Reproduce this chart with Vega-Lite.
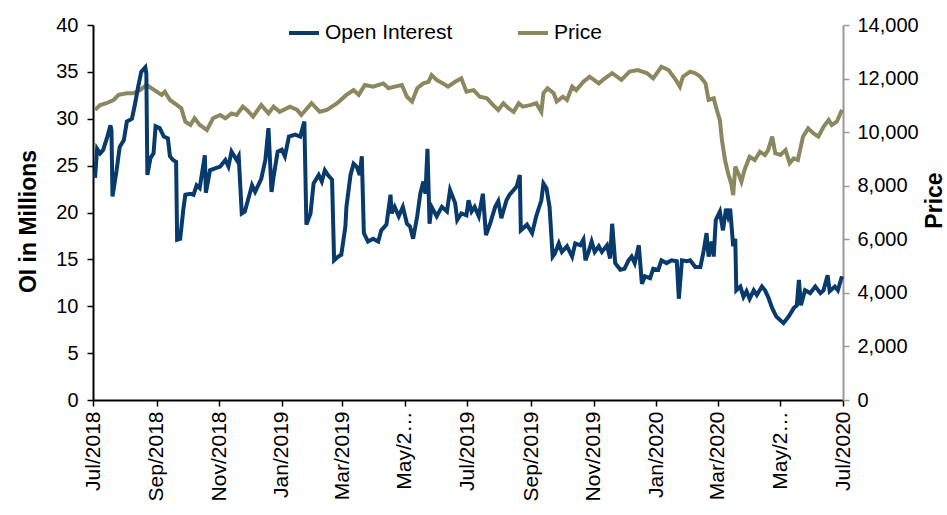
{
  "$schema": "https://vega.github.io/schema/vega-lite/v6.json",
  "width": 750,
  "height": 375,
  "autosize": {"type": "none"},
  "padding": {"left": 93, "top": 25, "right": 104, "bottom": 115},
  "background": "white",
  "config": {"view": {"stroke": null}, "font": "Liberation Sans", "axis": {"grid": false}},
  "datasets": {
    "oi": [
      {"date":"2018-07-03","oi":23.7},{"date":"2018-07-05","oi":26.8},{"date":"2018-07-08","oi":26.3},{"date":"2018-07-11","oi":26.7},{"date":"2018-07-15","oi":28.1},{"date":"2018-07-18","oi":29.3},{"date":"2018-07-19","oi":28.8},{"date":"2018-07-20","oi":21.7},{"date":"2018-07-24","oi":24.5},{"date":"2018-07-27","oi":27.0},{"date":"2018-07-31","oi":27.7},{"date":"2018-08-03","oi":29.7},{"date":"2018-08-08","oi":30.0},{"date":"2018-08-11","oi":31.6},{"date":"2018-08-14","oi":33.4},{"date":"2018-08-17","oi":35.0},{"date":"2018-08-21","oi":35.5},{"date":"2018-08-22","oi":34.8},{"date":"2018-08-23","oi":24.0},{"date":"2018-08-26","oi":25.8},{"date":"2018-08-29","oi":26.3},{"date":"2018-08-31","oi":29.2},{"date":"2018-09-04","oi":29.0},{"date":"2018-09-08","oi":28.1},{"date":"2018-09-12","oi":27.9},{"date":"2018-09-14","oi":26.0},{"date":"2018-09-17","oi":25.6},{"date":"2018-09-20","oi":25.4},{"date":"2018-09-21","oi":17.1},{"date":"2018-09-24","oi":17.2},{"date":"2018-09-27","oi":20.3},{"date":"2018-09-29","oi":21.9},{"date":"2018-10-04","oi":22.0},{"date":"2018-10-07","oi":21.9},{"date":"2018-10-10","oi":22.9},{"date":"2018-10-13","oi":22.6},{"date":"2018-10-18","oi":26.1},{"date":"2018-10-19","oi":22.1},{"date":"2018-10-23","oi":24.5},{"date":"2018-10-28","oi":24.7},{"date":"2018-11-02","oi":24.9},{"date":"2018-11-07","oi":25.6},{"date":"2018-11-10","oi":24.9},{"date":"2018-11-13","oi":26.5},{"date":"2018-11-18","oi":25.6},{"date":"2018-11-20","oi":26.0},{"date":"2018-11-23","oi":19.9},{"date":"2018-11-26","oi":20.1},{"date":"2018-11-29","oi":21.3},{"date":"2018-12-03","oi":22.9},{"date":"2018-12-06","oi":22.2},{"date":"2018-12-09","oi":22.9},{"date":"2018-12-12","oi":23.6},{"date":"2018-12-16","oi":25.6},{"date":"2018-12-19","oi":29.0},{"date":"2018-12-22","oi":22.2},{"date":"2018-12-24","oi":23.8},{"date":"2018-12-28","oi":26.5},{"date":"2019-01-01","oi":26.7},{"date":"2019-01-04","oi":26.0},{"date":"2019-01-08","oi":28.1},{"date":"2019-01-14","oi":28.3},{"date":"2019-01-19","oi":28.1},{"date":"2019-01-23","oi":29.7},{"date":"2019-01-25","oi":18.7},{"date":"2019-01-29","oi":19.9},{"date":"2019-02-01","oi":23.1},{"date":"2019-02-06","oi":24.0},{"date":"2019-02-09","oi":23.3},{"date":"2019-02-12","oi":24.5},{"date":"2019-02-15","oi":24.0},{"date":"2019-02-19","oi":23.5},{"date":"2019-02-21","oi":14.9},{"date":"2019-02-25","oi":15.3},{"date":"2019-02-28","oi":15.5},{"date":"2019-03-04","oi":18.5},{"date":"2019-03-05","oi":20.6},{"date":"2019-03-09","oi":24.0},{"date":"2019-03-12","oi":25.2},{"date":"2019-03-15","oi":24.9},{"date":"2019-03-18","oi":24.0},{"date":"2019-03-20","oi":26.0},{"date":"2019-03-22","oi":17.8},{"date":"2019-03-26","oi":16.9},{"date":"2019-03-31","oi":17.2},{"date":"2019-04-05","oi":16.9},{"date":"2019-04-08","oi":18.1},{"date":"2019-04-13","oi":18.7},{"date":"2019-04-17","oi":21.9},{"date":"2019-04-18","oi":19.9},{"date":"2019-04-21","oi":20.6},{"date":"2019-04-25","oi":19.6},{"date":"2019-04-29","oi":20.6},{"date":"2019-05-03","oi":18.8},{"date":"2019-05-06","oi":18.5},{"date":"2019-05-09","oi":17.2},{"date":"2019-05-13","oi":19.6},{"date":"2019-05-16","oi":22.0},{"date":"2019-05-19","oi":23.3},{"date":"2019-05-21","oi":22.0},{"date":"2019-05-23","oi":26.8},{"date":"2019-05-25","oi":18.8},{"date":"2019-05-27","oi":20.6},{"date":"2019-06-01","oi":19.6},{"date":"2019-06-06","oi":20.6},{"date":"2019-06-11","oi":20.1},{"date":"2019-06-14","oi":22.4},{"date":"2019-06-19","oi":21.0},{"date":"2019-06-21","oi":19.2},{"date":"2019-06-25","oi":19.9},{"date":"2019-06-30","oi":19.7},{"date":"2019-07-02","oi":21.3},{"date":"2019-07-05","oi":20.1},{"date":"2019-07-08","oi":20.6},{"date":"2019-07-12","oi":19.6},{"date":"2019-07-16","oi":22.0},{"date":"2019-07-19","oi":17.6},{"date":"2019-07-23","oi":18.8},{"date":"2019-07-28","oi":20.6},{"date":"2019-07-31","oi":21.2},{"date":"2019-08-03","oi":19.4},{"date":"2019-08-08","oi":21.3},{"date":"2019-08-11","oi":21.9},{"date":"2019-08-15","oi":22.4},{"date":"2019-08-18","oi":22.8},{"date":"2019-08-21","oi":24.0},{"date":"2019-08-22","oi":18.1},{"date":"2019-08-28","oi":18.7},{"date":"2019-09-02","oi":17.8},{"date":"2019-09-06","oi":19.6},{"date":"2019-09-11","oi":21.3},{"date":"2019-09-13","oi":23.1},{"date":"2019-09-16","oi":22.6},{"date":"2019-09-19","oi":20.6},{"date":"2019-09-22","oi":15.3},{"date":"2019-09-24","oi":15.6},{"date":"2019-09-28","oi":16.7},{"date":"2019-10-01","oi":15.8},{"date":"2019-10-06","oi":16.4},{"date":"2019-10-11","oi":15.3},{"date":"2019-10-14","oi":16.7},{"date":"2019-10-19","oi":16.5},{"date":"2019-10-22","oi":17.1},{"date":"2019-10-24","oi":14.9},{"date":"2019-10-27","oi":15.8},{"date":"2019-10-30","oi":16.9},{"date":"2019-11-02","oi":15.8},{"date":"2019-11-06","oi":16.4},{"date":"2019-11-09","oi":15.8},{"date":"2019-11-14","oi":16.5},{"date":"2019-11-17","oi":15.1},{"date":"2019-11-19","oi":18.8},{"date":"2019-11-22","oi":14.6},{"date":"2019-11-27","oi":13.9},{"date":"2019-12-01","oi":14.0},{"date":"2019-12-05","oi":14.9},{"date":"2019-12-08","oi":15.3},{"date":"2019-12-11","oi":14.6},{"date":"2019-12-15","oi":16.5},{"date":"2019-12-18","oi":12.4},{"date":"2019-12-21","oi":13.2},{"date":"2019-12-26","oi":13.0},{"date":"2019-12-29","oi":14.0},{"date":"2020-01-03","oi":13.9},{"date":"2020-01-06","oi":14.9},{"date":"2020-01-11","oi":14.6},{"date":"2020-01-16","oi":14.9},{"date":"2020-01-21","oi":14.8},{"date":"2020-01-23","oi":10.8},{"date":"2020-01-26","oi":14.9},{"date":"2020-01-31","oi":14.8},{"date":"2020-02-03","oi":14.9},{"date":"2020-02-08","oi":14.2},{"date":"2020-02-13","oi":14.2},{"date":"2020-02-16","oi":15.8},{"date":"2020-02-19","oi":17.8},{"date":"2020-02-21","oi":15.3},{"date":"2020-02-24","oi":16.9},{"date":"2020-02-26","oi":15.3},{"date":"2020-02-28","oi":19.2},{"date":"2020-03-03","oi":20.1},{"date":"2020-03-06","oi":18.1},{"date":"2020-03-09","oi":20.4},{"date":"2020-03-11","oi":19.6},{"date":"2020-03-13","oi":20.4},{"date":"2020-03-16","oi":16.4},{"date":"2020-03-18","oi":17.2},{"date":"2020-03-19","oi":11.7},{"date":"2020-03-23","oi":12.1},{"date":"2020-03-26","oi":11.0},{"date":"2020-03-29","oi":11.6},{"date":"2020-04-01","oi":10.8},{"date":"2020-04-05","oi":11.7},{"date":"2020-04-08","oi":11.2},{"date":"2020-04-13","oi":12.1},{"date":"2020-04-16","oi":11.7},{"date":"2020-04-19","oi":11.0},{"date":"2020-04-23","oi":9.8},{"date":"2020-04-27","oi":8.9},{"date":"2020-05-04","oi":8.2},{"date":"2020-05-09","oi":8.9},{"date":"2020-05-14","oi":9.8},{"date":"2020-05-17","oi":10.1},{"date":"2020-05-19","oi":12.8},{"date":"2020-05-21","oi":10.1},{"date":"2020-05-25","oi":11.7},{"date":"2020-05-30","oi":11.4},{"date":"2020-06-04","oi":12.1},{"date":"2020-06-09","oi":11.4},{"date":"2020-06-12","oi":11.7},{"date":"2020-06-16","oi":13.3},{"date":"2020-06-18","oi":11.6},{"date":"2020-06-23","oi":12.1},{"date":"2020-06-26","oi":11.7},{"date":"2020-06-30","oi":13.2}
    ],
    "price": [
      {"date":"2018-07-03","price":10830},{"date":"2018-07-08","price":11010},{"date":"2018-07-14","price":11080},{"date":"2018-07-21","price":11200},{"date":"2018-07-26","price":11390},{"date":"2018-08-03","price":11450},{"date":"2018-08-09","price":11450},{"date":"2018-08-16","price":11570},{"date":"2018-08-22","price":11760},{"date":"2018-08-27","price":11640},{"date":"2018-09-01","price":11510},{"date":"2018-09-06","price":11390},{"date":"2018-09-09","price":11510},{"date":"2018-09-14","price":11200},{"date":"2018-09-21","price":11010},{"date":"2018-09-25","price":10890},{"date":"2018-09-29","price":10390},{"date":"2018-10-04","price":10270},{"date":"2018-10-08","price":10520},{"date":"2018-10-13","price":10270},{"date":"2018-10-20","price":10080},{"date":"2018-10-26","price":10520},{"date":"2018-11-02","price":10640},{"date":"2018-11-07","price":10520},{"date":"2018-11-13","price":10700},{"date":"2018-11-18","price":10640},{"date":"2018-11-24","price":10950},{"date":"2018-11-28","price":10830},{"date":"2018-12-04","price":10580},{"date":"2018-12-12","price":11010},{"date":"2018-12-19","price":10700},{"date":"2018-12-24","price":10950},{"date":"2018-12-30","price":10760},{"date":"2019-01-09","price":10950},{"date":"2019-01-16","price":10830},{"date":"2019-01-20","price":10640},{"date":"2019-01-30","price":11080},{"date":"2019-02-07","price":10760},{"date":"2019-02-14","price":10830},{"date":"2019-02-24","price":11080},{"date":"2019-03-05","price":11390},{"date":"2019-03-12","price":11570},{"date":"2019-03-17","price":11390},{"date":"2019-03-23","price":11760},{"date":"2019-03-31","price":11700},{"date":"2019-04-10","price":11820},{"date":"2019-04-15","price":11640},{"date":"2019-04-21","price":11700},{"date":"2019-04-28","price":11760},{"date":"2019-05-03","price":11320},{"date":"2019-05-08","price":11140},{"date":"2019-05-13","price":11640},{"date":"2019-05-19","price":11820},{"date":"2019-05-24","price":11880},{"date":"2019-05-27","price":12130},{"date":"2019-06-01","price":11950},{"date":"2019-06-07","price":11820},{"date":"2019-06-12","price":11700},{"date":"2019-06-19","price":11880},{"date":"2019-06-25","price":12010},{"date":"2019-06-30","price":11510},{"date":"2019-07-07","price":11570},{"date":"2019-07-13","price":11320},{"date":"2019-07-20","price":11260},{"date":"2019-07-26","price":11010},{"date":"2019-07-31","price":10830},{"date":"2019-08-05","price":11080},{"date":"2019-08-10","price":10890},{"date":"2019-08-15","price":10760},{"date":"2019-08-20","price":11080},{"date":"2019-08-24","price":10950},{"date":"2019-08-31","price":11010},{"date":"2019-09-06","price":11080},{"date":"2019-09-11","price":10760},{"date":"2019-09-13","price":11450},{"date":"2019-09-17","price":11640},{"date":"2019-09-23","price":11450},{"date":"2019-09-26","price":11140},{"date":"2019-10-02","price":11320},{"date":"2019-10-06","price":11200},{"date":"2019-10-11","price":11700},{"date":"2019-10-15","price":11570},{"date":"2019-10-22","price":11880},{"date":"2019-10-28","price":12070},{"date":"2019-11-06","price":11820},{"date":"2019-11-12","price":12010},{"date":"2019-11-19","price":12200},{"date":"2019-11-28","price":11950},{"date":"2019-12-06","price":12260},{"date":"2019-12-14","price":12320},{"date":"2019-12-23","price":12200},{"date":"2019-12-29","price":12010},{"date":"2020-01-06","price":12440},{"date":"2020-01-13","price":12320},{"date":"2020-01-19","price":12010},{"date":"2020-01-24","price":11700},{"date":"2020-01-27","price":12070},{"date":"2020-02-03","price":12260},{"date":"2020-02-08","price":12200},{"date":"2020-02-13","price":12070},{"date":"2020-02-18","price":11820},{"date":"2020-02-21","price":11200},{"date":"2020-02-26","price":11260},{"date":"2020-02-29","price":10830},{"date":"2020-03-03","price":10450},{"date":"2020-03-05","price":9710},{"date":"2020-03-08","price":8960},{"date":"2020-03-11","price":8460},{"date":"2020-03-14","price":8090},{"date":"2020-03-16","price":7650},{"date":"2020-03-18","price":8710},{"date":"2020-03-21","price":8460},{"date":"2020-03-24","price":8150},{"date":"2020-03-27","price":8590},{"date":"2020-04-01","price":9080},{"date":"2020-04-06","price":8960},{"date":"2020-04-11","price":9270},{"date":"2020-04-16","price":9150},{"date":"2020-04-19","price":9330},{"date":"2020-04-23","price":9830},{"date":"2020-04-26","price":9210},{"date":"2020-05-01","price":9150},{"date":"2020-05-06","price":9330},{"date":"2020-05-10","price":8840},{"date":"2020-05-14","price":9020},{"date":"2020-05-18","price":8960},{"date":"2020-05-23","price":9830},{"date":"2020-05-28","price":10140},{"date":"2020-06-02","price":9960},{"date":"2020-06-07","price":9830},{"date":"2020-06-12","price":10200},{"date":"2020-06-17","price":10450},{"date":"2020-06-20","price":10270},{"date":"2020-06-25","price":10390},{"date":"2020-06-30","price":10830}
    ]
  },
  "encoding": {
    "x": {
      "field": "date",
      "type": "temporal",
      "scale": {"type": "utc", "domain": [{"year": 2018, "month": 7, "date": 1, "utc": true}, {"year": 2020, "month": 7, "date": 1, "utc": true}]},
      "axis": {
        "title": null,
        "values": [
          {"year": 2018, "month": 7, "date": 1, "utc": true},
          {"year": 2018, "month": 9, "date": 1, "utc": true},
          {"year": 2018, "month": 11, "date": 1, "utc": true},
          {"year": 2019, "month": 1, "date": 1, "utc": true},
          {"year": 2019, "month": 3, "date": 1, "utc": true},
          {"year": 2019, "month": 5, "date": 1, "utc": true},
          {"year": 2019, "month": 7, "date": 1, "utc": true},
          {"year": 2019, "month": 9, "date": 1, "utc": true},
          {"year": 2019, "month": 11, "date": 1, "utc": true},
          {"year": 2020, "month": 1, "date": 1, "utc": true},
          {"year": 2020, "month": 3, "date": 1, "utc": true},
          {"year": 2020, "month": 5, "date": 1, "utc": true},
          {"year": 2020, "month": 7, "date": 1, "utc": true}
        ],
        "labelExpr": "utcFormat(datum.value, '%m') == '05' ? 'May/2…' : utcFormat(datum.value, '%b/%Y')",
        "labelAngle": 270,
        "labelAlign": "right",
        "labelBaseline": "middle",
        "labelFont": "Liberation Sans",
        "labelFontSize": 21,
        "labelColor": "black",
        "labelPadding": 5,
        "labelOverlap": false,
        "labelFlush": false,
        "labelBound": false,
        "domainColor": "black",
        "domainWidth": 2,
        "tickColor": "black",
        "tickWidth": 1.5,
        "tickSize": 6
      }
    }
  },
  "layer": [
    {
      "data": {"name": "price"},
      "mark": {"type": "line", "strokeWidth": 4, "interpolate": "linear"},
      "encoding": {
        "y": {
          "field": "price",
          "type": "quantitative",
          "scale": {"domain": [0, 14000]},
          "axis": {
            "orient": "right",
            "values": [0, 2000, 4000, 6000, 8000, 10000, 12000, 14000],
            "format": ",.0f",
            "title": "Price",
            "titleFont": "Liberation Sans",
            "titleFontWeight": "bold",
            "titleFontSize": 23,
            "titleColor": "black",
            "titleAngle": 270,
            "titleX": 91,
            "titleY": 175,
            "titleAlign": "center",
            "titleBaseline": "middle",
            "labelFont": "Liberation Sans",
            "labelFontSize": 20,
            "labelColor": "black",
            "labelPadding": 8,
            "domainColor": "#9a9a9a",
            "domainWidth": 2,
            "tickColor": "#9a9a9a",
            "tickWidth": 1.5,
            "tickSize": 6
          }
        },
        "color": {
          "datum": "Price",
          "type": "nominal",
          "scale": {"domain": ["Open Interest", "Price"], "range": ["#083a6c", "#8b875f"]},
          "legend": {
            "title": null,
            "orient": "none",
            "direction": "horizontal",
            "legendX": 194,
            "legendY": -9,
            "symbolType": "stroke",
            "symbolSize": 900,
            "symbolStrokeWidth": 4,
            "labelFont": "Liberation Sans",
            "labelFontSize": 21,
            "labelColor": "black",
            "labelOffset": 4,
            "columnPadding": 57
          }
        }
      }
    },
    {
      "data": {"name": "oi"},
      "mark": {"type": "line", "strokeWidth": 4, "interpolate": "linear"},
      "encoding": {
        "y": {
          "field": "oi",
          "type": "quantitative",
          "scale": {"domain": [0, 40]},
          "axis": {
            "orient": "left",
            "values": [0, 5, 10, 15, 20, 25, 30, 35, 40],
            "title": "OI in Millions",
            "titleFont": "Liberation Sans",
            "titleFontWeight": "bold",
            "titleFontSize": 23,
            "titleColor": "black",
            "titleAngle": 270,
            "titleX": -65,
            "titleY": 196,
            "titleAlign": "center",
            "titleBaseline": "middle",
            "labelFont": "Liberation Sans",
            "labelFontSize": 20,
            "labelColor": "black",
            "labelPadding": 9,
            "domainColor": "black",
            "domainWidth": 2,
            "tickColor": "black",
            "tickWidth": 1.5,
            "tickSize": 6
          }
        },
        "color": {"datum": "Open Interest", "type": "nominal"}
      }
    }
  ],
  "resolve": {"scale": {"y": "independent"}}
}
